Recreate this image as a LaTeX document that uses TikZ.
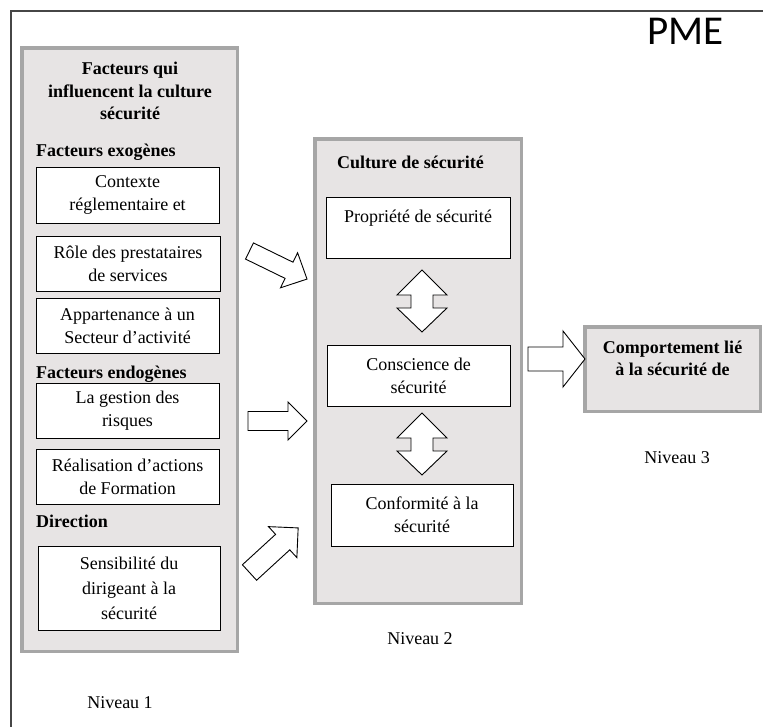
\documentclass[tikz,border=0pt]{standalone}
\usepackage{fontspec}
\setmainfont{Liberation Serif}
\newfontfamily\pmefont{Carlito}
\definecolor{panelfill}{RGB}{231,228,228}
\definecolor{panelline}{RGB}{166,166,166}
\definecolor{framecol}{RGB}{70,70,70}
\tikzset{
  panel/.style={draw=panelline, fill=panelfill, line width=3.5pt, inner sep=0pt},
  wbox/.style={draw=black, fill=white, line width=0.9pt, inner sep=0pt, align=center,
    font=\fontsize{18}{23}\selectfont},
  head/.style={inner sep=0pt, font=\bfseries\fontsize{18}{22.5}\selectfont},
  lvl/.style={inner sep=0pt, font=\fontsize{18}{22}\selectfont},
  blockarr/.style={draw=black, fill=white, line width=0.9pt, line join=miter},
}
% block arrow: tail x, tail y, angle, length, head length, shaft half, head half
\newcommand\myblockarrow[7]{%
  \begin{scope}[shift={(#1,#2)}, rotate=#3]
    \draw[blockarr] (0,-#6) -- ({#4-#5},-#6) -- ({#4-#5},-#7) -- (#4,0)
      -- ({#4-#5},#7) -- ({#4-#5},#6) -- (0,#6) -- cycle;
  \end{scope}}
% up-down arrow: centre x, top y
\newcommand\myupdown[2]{%
  \draw[blockarr] (#1,#2) -- ({#1+25},{#2+25}) -- ({#1+11},{#2+25}) -- ({#1+11},{#2+38})
    -- ({#1+25},{#2+38}) -- (#1,{#2+62}) -- ({#1-25},{#2+38}) -- ({#1-11},{#2+38})
    -- ({#1-11},{#2+25}) -- ({#1-25},{#2+25}) -- cycle;}
\begin{document}
\begin{tikzpicture}[x=1pt,y=-1pt]
\useasboundingbox (0,0) rectangle (763,726);
\fill[white] (0,0) rectangle (763,726);
% outer frame
\draw[framecol, line width=1.2pt] (11,730) -- (11,11) -- (770,11);
\node[inner sep=0pt, anchor=base, font=\pmefont\fontsize{41}{41}\selectfont] (pme) at (685.5,44) {PME};

% panels
\node[panel, minimum width=215.5, minimum height=603.5] (lp) at (129.5,349.5) {};
\node[panel, minimum width=206.5, minimum height=464.5] (mp) at (418,371) {};
\node[panel, minimum width=175.5, minimum height=84.5, align=center,
      font=\bfseries\fontsize{18}{22}\selectfont] (rp) at (672.5,369)
      {Comportement lié\\à la sécurité de\\\mbox{}};

% left panel content
\node[head, align=center] (ttl) at (130,91) {Facteurs qui\\influencent la culture\\sécurité};
\node[head, anchor=base west] (exo) at (36,156) {Facteurs exogènes};
\node[wbox, minimum width=183, minimum height=56] (b1) at (127.5,195) {Contexte\\réglementaire et};
\node[wbox, minimum width=184, minimum height=55] (b2) at (128,263.5) {Rôle des prestataires\\de services};
\node[wbox, minimum width=183, minimum height=55] (b3) at (127.5,325.5) {Appartenance à un\\Secteur d’activité};
\node[head, anchor=base west] (endo) at (36,378) {Facteurs endogènes};
\node[wbox, minimum width=183, minimum height=55] (b4) at (127.5,410.5) {La gestion des\\risques};
\node[wbox, minimum width=183, minimum height=55] (b5) at (127.5,476.5) {Réalisation d’actions\\de Formation};
\node[head, anchor=base west] (dir) at (36,527) {Direction};
\node[wbox, minimum width=182, minimum height=84, font=\fontsize{18}{25}\selectfont] (b6) at (129,588) {Sensibilité du\\dirigeant à la\\sécurité};
\node[lvl] (n1) at (120,703) {Niveau 1};

% middle panel content
\node[head, anchor=base west] (cult) at (337,168) {Culture de sécurité};
\node[wbox, minimum width=184, minimum height=61] (bp) at (418,227.5) {Propriété de sécurité\\\mbox{}};
\node[wbox, minimum width=183, minimum height=61] (bc) at (418.5,375.5) {Conscience de\\sécurité};
\node[wbox, minimum width=182, minimum height=62] (bf) at (422,515) {Conformité à la\\sécurité};
\node[lvl] (n2) at (420,639) {Niveau 2};
\node[lvl] (n3) at (677,458) {Niveau 3};

% double arrows
\myupdown{422}{270}
\myupdown{422}{413}

% block arrows
\myblockarrow{249.5}{251}{-26}{64}{20}{9}{19.5}
\myblockarrow{248}{421}{0}{59}{19}{9.5}{19}
\myblockarrow{249.5}{572.5}{42.5}{66}{21}{10.5}{21}
\myblockarrow{528}{359}{0}{57}{22}{12}{28}
\end{tikzpicture}
\end{document}
